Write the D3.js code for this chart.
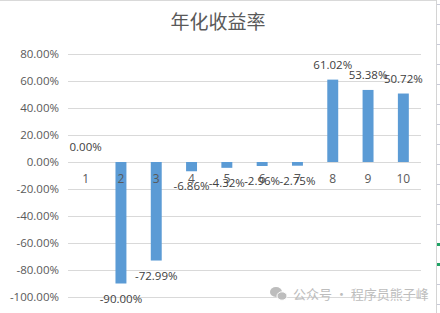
<html>
<head>
<meta charset="utf-8">
<title>年化收益率</title>
<style>
	body { margin:0; padding:0; background:#fff; }
	svg { display:block; }
	.num { font-family:"Open Sans", "Liberation Sans", sans-serif; font-size:11.5px; }
	.grid line { stroke:#d9d9d9; stroke-width:1; }
</style>
</head>
<body>
<svg width="440" height="313"></svg>
<script src="https://cdn.jsdelivr.net/npm/d3@7/dist/d3.min.js"></script>
<script>
	// data
	var categories = ["1","2","3","4","5","6","7","8","9","10"];
	var values = [0, -90.00, -72.99, -6.86, -4.32, -2.96, -2.75, 61.02, 53.38, 50.72];
	var yTicks = [80, 60, 40, 20, 0, -20, -40, -60, -80, -100];
	var title = "年化收益率";
	var watermark = "公众号 · 程序员熊子峰";

	var svg = d3.select("svg");

	var x = d3.scaleBand().domain(categories).range([68, 421]).paddingInner(0.69).paddingOuter(0.345);
	var y = d3.scaleLinear().domain([-100, 80]).range([297, 54]);

	// frame bits of the sheet on the right
	svg.append("line").attr("x1", 0).attr("x2", 436).attr("y1", 0.5).attr("y2", 0.5).attr("stroke", "#d9d9d9");
	svg.append("line").attr("x1", 436.5).attr("x2", 436.5).attr("y1", 0).attr("y2", 313).attr("stroke", "#d4d4d4");
	svg.selectAll(".rowtick").data(d3.range(4, 313, 20)).enter().append("line")
		.attr("x1", 437).attr("x2", 440).attr("y1", function(d){ return d + 0.5 }).attr("y2", function(d){ return d + 0.5 })
		.attr("stroke", function(d){ return (d == 244 || d == 264) ? "#21a366" : "#c9cbd9" })
		.attr("stroke-width", function(d){ return (d == 244 || d == 264) ? 3 : 1 });

	// title
	svg.append("text").attr("x", 218).attr("y", 29).attr("text-anchor", "middle")
		.style("font-family", "'Noto Sans CJK SC', sans-serif").style("font-size", "19px").attr("fill", "#595959")
		.text(title);

	// gridlines
	svg.append("g").attr("class", "grid")
		.selectAll("line").data(yTicks).enter().append("line")
		.attr("x1", 68).attr("x2", 421)
		.attr("y1", function(d){ return Math.round(y(d)) + 0.5 })
		.attr("y2", function(d){ return Math.round(y(d)) + 0.5 });

	// y axis labels
	var yAxis = d3.axisLeft(y).tickValues(yTicks).tickSize(0).tickPadding(0)
		.tickFormat(function(d){ return d.toFixed(2) + "%" });
	var gy = svg.append("g").attr("transform", "translate(59,0)").call(yAxis);
	gy.select(".domain").remove();
	gy.selectAll("text").attr("class", "num").attr("fill", "#595959").style("font-size", "11.5px");

	// watermark
	var wm = svg.append("g").attr("fill", "#bdbdbd");
	wm.append("ellipse").attr("cx", 276).attr("cy", 292).attr("rx", 6).attr("ry", 5);
	wm.append("ellipse").attr("cx", 282).attr("cy", 296).attr("rx", 5).attr("ry", 4.2).attr("stroke", "#fff").attr("stroke-width", 1);
	wm.append("text").attr("x", 293).attr("y", 299)
		.style("font-family", "'Noto Sans CJK SC', sans-serif").style("font-size", "13px")
		.text(watermark);

	// bars
	svg.selectAll(".bar").data(values).enter().append("rect")
		.attr("class", "bar")
		.attr("x", function(d, i){ return x(categories[i]) })
		.attr("width", x.bandwidth())
		.attr("y", function(d){ return y(Math.max(0, d)) })
		.attr("height", function(d){ return Math.abs(y(d) - y(0)) })
		.attr("fill", "#5b9bd5");

	// category labels
	var xAxis = d3.axisBottom(x).tickSize(0).tickPadding(0);
	var gx = svg.append("g").attr("transform", "translate(0,174)").call(xAxis);
	gx.select(".domain").remove();
	gx.selectAll("text").attr("class", "num").attr("fill", "#595959").style("font-size", "12px").attr("dy", "0.35em").attr("y", 5);

	// data labels
	svg.selectAll(".lbl").data(values).enter().append("text")
		.attr("class", "num")
		.attr("x", function(d, i){ return x(categories[i]) + x.bandwidth() / 2 })
		.attr("y", function(d){ return d >= 0 ? y(d) - 15 : y(d) + 15 })
		.attr("dy", "0.35em")
		.attr("text-anchor", "middle")
		.attr("fill", "#404040")
		.text(function(d){ return d.toFixed(2) + "%" });
</script>
</body>
</html>
